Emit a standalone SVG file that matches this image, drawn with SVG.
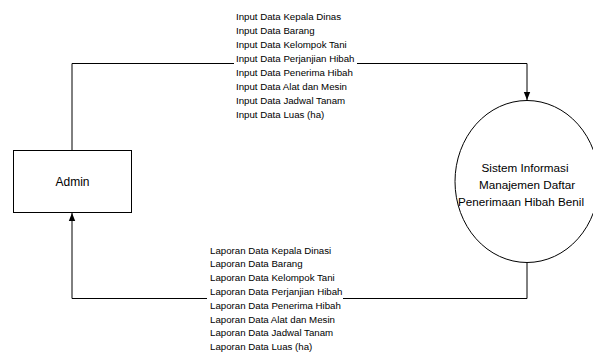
<svg xmlns="http://www.w3.org/2000/svg" width="593" height="352" viewBox="0 0 593 352">
<style>
  .lbl{font-family:"Liberation Sans",Arial,sans-serif;font-size:9.7px;fill:#000}
  .node{fill:#fff;stroke:#000;stroke-width:1}
  .conn{fill:none;stroke:#000;stroke-width:1}
  .ntext{font-family:"Liberation Sans",Arial,sans-serif;fill:#000;text-anchor:middle}
</style>
<defs>
  <marker id="arr" viewBox="0 0 8 8" refX="8" refY="4" markerWidth="8" markerHeight="8" markerUnits="userSpaceOnUse" orient="auto">
    <path d="M0,0.8 L8,4 L0,7.2 Z" fill="#000"/>
  </marker>
</defs>
<rect width="593" height="352" fill="#fff"/>
<g id="connectors">
  <path class="conn" d="M72,150 V63.5 H527 V100" marker-end="url(#arr)"/>
  <path class="conn" d="M527,263 V298.5 H72 V213" marker-end="url(#arr)"/>
  <rect x="234" y="55" width="123" height="14" fill="#fff"/>
  <rect x="207" y="290" width="136" height="14" fill="#fff"/>
  <g id="label-input" class="lbl">
    <text x="236" y="19.5">Input Data Kepala Dinas</text>
    <text x="236" y="33.5">Input Data Barang</text>
    <text x="236" y="47.5">Input Data Kelompok Tani</text>
    <text x="236" y="61.5">Input Data Perjanjian Hibah</text>
    <text x="236" y="75.5">Input Data Penerima Hibah</text>
    <text x="236" y="89.5">Input Data Alat dan Mesin</text>
    <text x="236" y="103.5">Input Data Jadwal Tanam</text>
    <text x="236" y="117.5">Input Data Luas (ha)</text>
  </g>
  <g id="label-laporan" class="lbl">
    <text x="210" y="253.5">Laporan Data Kepala Dinasi</text>
    <text x="210" y="267.3">Laporan Data Barang</text>
    <text x="210" y="281.1">Laporan Data Kelompok Tani</text>
    <text x="210" y="294.9">Laporan Data Perjanjian Hibah</text>
    <text x="210" y="308.7">Laporan Data Penerima Hibah</text>
    <text x="210" y="322.5">Laporan Data Alat dan Mesin</text>
    <text x="210" y="336.3">Laporan Data Jadwal Tanam</text>
    <text x="210" y="350.1">Laporan Data Luas (ha)</text>
  </g>
</g>
<g id="admin">
  <rect class="node" x="13.5" y="150.5" width="118" height="62"/>
  <text class="ntext" x="72.5" y="186" font-size="12">Admin</text>
</g>
<g id="sistem">
  <ellipse class="node" cx="527" cy="181.5" rx="72" ry="81"/>
  <text class="ntext" x="525" y="172" font-size="11.7">Sistem Informasi</text>
  <text class="ntext" x="527" y="189" font-size="11.7">Manajemen Daftar</text>
  <text class="ntext" x="521" y="206" font-size="11.7">Penerimaan Hibah Benil</text>
</g>
</svg>
